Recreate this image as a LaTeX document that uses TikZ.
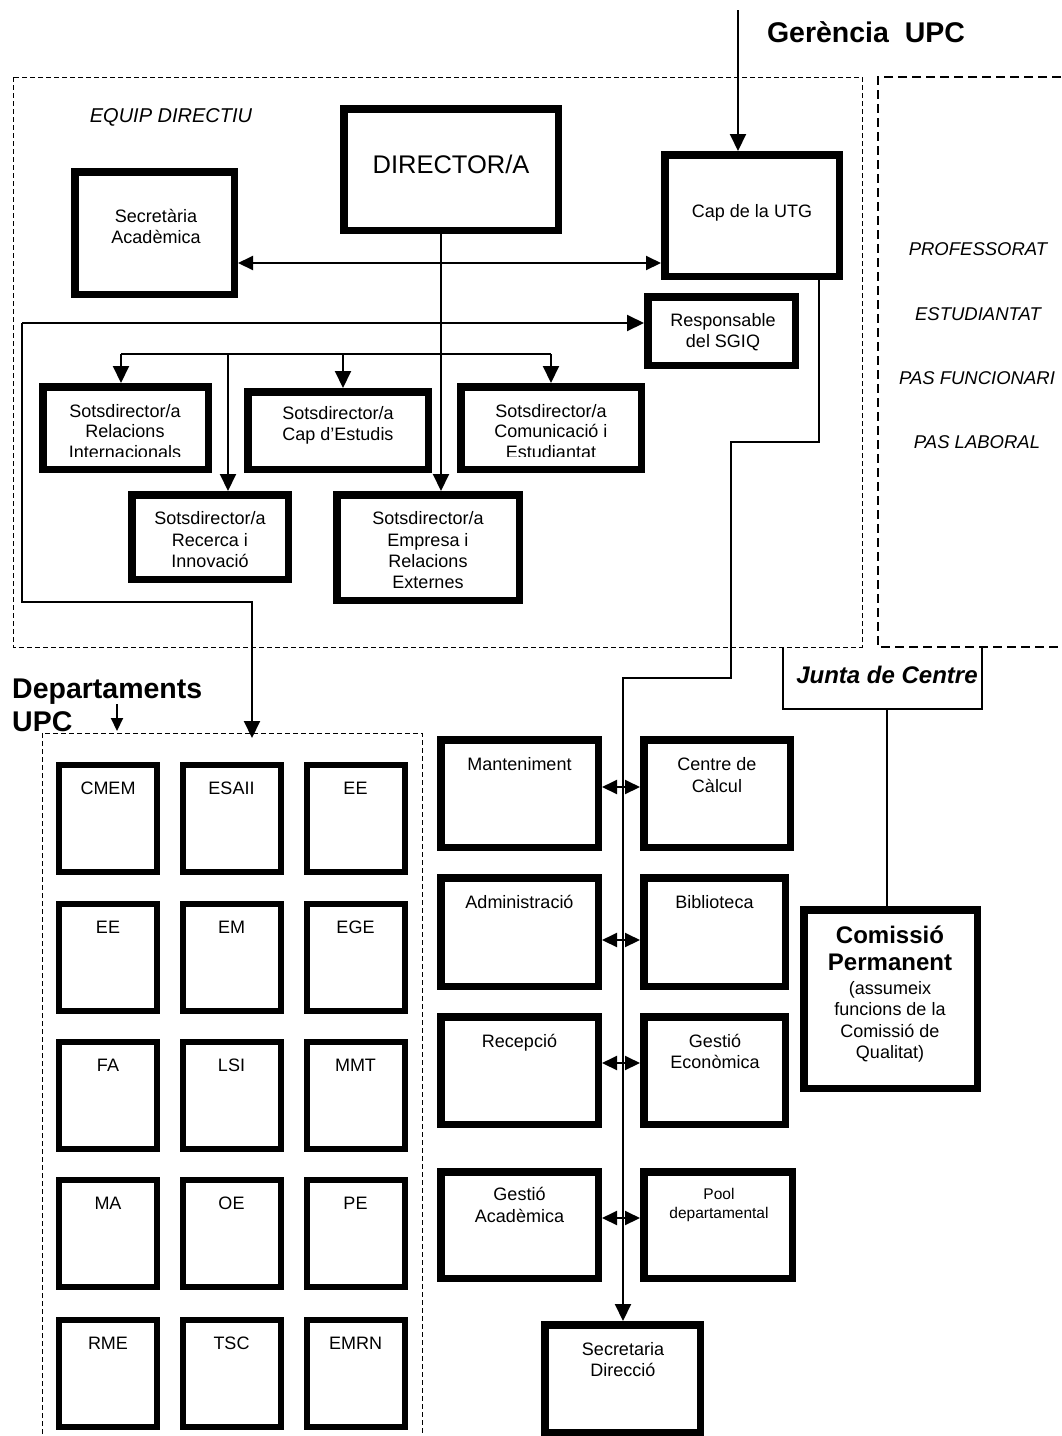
\documentclass[tikz,border=0pt]{standalone}
\usepackage{fontspec}
\setmainfont{Liberation Sans}
\usetikzlibrary{arrows.meta}
\newcommand\BX[6][7.5]{\node[boxst, line width=#1pt, outer sep={0.5*#1pt}, minimum width={(#5)-(#3)-(#1)}, minimum height={(#6)-(#4)-(#1)}] (#2) at ({((#3)+(#5))/2},{((#4)+(#6))/2}) {};}
\newcommand\TL[4][]{\node[lbl,#1] at (#2,#3) {#4};}
\begin{document}
\begin{tikzpicture}[x=1pt,y=-1pt,
  boxst/.style={draw, inner sep=0pt, fill=white},
  lbl/.style={anchor=base, inner sep=0pt, font=\fontsize{18}{21}\selectfont},
  conn/.style={line width=2pt},
  arr/.style={conn, -{Triangle[length=17pt,width=16pt]}},
  darr/.style={conn, {Triangle[length=15pt,width=14pt]}-{Triangle[length=15pt,width=14pt]}},
  smallarr/.style={conn, -{Triangle[length=13pt,width=12pt]}},
  thindash/.style={line width=1pt, dash pattern=on 5pt off 3pt},
  thickdash/.style={line width=2pt, dash pattern=on 9pt off 5pt},
  thinline/.style={line width=1.5pt},
  bigbold/.style={font=\fontsize{28.5}{30}\selectfont\bfseries},
  ital/.style={font=\fontsize{18.5}{21}\selectfont\itshape},
]
\useasboundingbox (0,0) rectangle (1062,1436);

% dashed frames
\draw[thindash] (13,77) rectangle (862,647);
\draw[thickdash] (1075,77) -- (878,77) -- (878,647) -- (1075,647);
\draw[thindash] (42,1450) -- (42,733) -- (422,733) -- (422,1450);

% headings
\TL[bigbold]{866}{42}{Gerència\ \ UPC}
\TL[bigbold, anchor=base west]{12}{698}{Departaments}
\TL[bigbold, anchor=base west]{12}{731}{UPC}
\TL[font=\fontsize{20}{22}\selectfont\itshape]{171}{122}{EQUIP DIRECTIU}
\TL[ital]{978}{255}{PROFESSORAT}
\TL[ital]{978}{320}{ESTUDIANTAT}
\TL[ital]{977}{384}{PAS FUNCIONARI}
\TL[ital]{977}{448}{PAS LABORAL}

% equip directiu boxes
\BX{sec}{71}{168}{238}{298}
\BX{dir}{340}{105}{562}{234}
\BX{cap}{661}{151}{843}{280}
\BX{sgiq}{644}{293}{799}{369}
\BX{rel}{39}{383}{212}{473}
\BX{est}{244}{388}{432}{473}
\BX{com}{457}{383}{645}{473}
\BX{rec}{128}{491}{292}{583}
\BX{emp}{333}{491}{523}{604}

\TL{156}{222}{Secretària}
\TL{156}{243}{Acadèmica}
\TL[font=\fontsize{25.5}{28}\selectfont]{451}{173}{DIRECTOR/A}
\TL{752}{217}{Cap de la UTG}
\TL{723}{326}{Responsable}
\TL{723}{347}{del SGIQ}
\TL{125}{417}{Sotsdirector/a}
\TL{125}{437}{Relacions}
\TL{338}{419}{Sotsdirector/a}
\TL{338}{440}{Cap d’Estudis}
\TL{551}{417}{Sotsdirector/a}
\TL{551}{437}{Comunicació i}
\begin{scope}
\clip (0,0) rectangle (1062,456);
\TL{125}{458}{Internacionals}
\TL{551}{458}{Estudiantat}
\end{scope}
\TL{210}{524}{Sotsdirector/a}
\TL{210}{546}{Recerca i}
\TL{210}{567}{Innovació}
\TL{428}{524}{Sotsdirector/a}
\TL{428}{546}{Empresa i}
\TL{428}{567}{Relacions}
\TL{428}{588}{Externes}

% connectors, top part
\coordinate (gtop) at (738,10);
\draw[arr] (gtop) -- (gtop |- cap.north);
\coordinate (ya) at (0,263);
\draw[darr] (sec.east |- ya) -- (cap.west |- ya);
\coordinate (xd) at (441,0);
\draw[arr] (dir.south -| xd) -- (emp.north -| xd);
\coordinate (r1) at (22,323);
\coordinate (r2) at (22,602);
\coordinate (r3) at (252,602);
\coordinate (dtip) at (252,738);
\draw[arr] (r1) -- (sgiq.west |- r1);
\draw[arr] (r1) -- (r2) -- (r3) -- (dtip);
\coordinate (b1) at (121,354);
\coordinate (b2) at (551,354);
\coordinate (b3) at (228,354);
\coordinate (b4) at (343,354);
\draw[conn] (b1) -- (b2);
\draw[arr] (b1) -- (b1 |- rel.north);
\draw[arr] (b2) -- (b2 |- com.north);
\draw[arr] (b3) -- (b3 |- rec.north);
\draw[arr] (b4) -- (b4 |- est.north);
\coordinate (dps) at (117,704);
\coordinate (dpe) at (117,731);
\draw[smallarr] (dps) -- (dpe);

% departments
\foreach \lab [count=\i from 0] in {CMEM,ESAII,EE,EE,EM,EGE,FA,LSI,MMT,MA,OE,PE,RME,TSC,EMRN}{
  \pgfmathtruncatemacro\rr{\i/3}
  \pgfmathtruncatemacro\cc{mod(\i,3)}
  \pgfmathsetmacro\xl{{56,179.5,303.5}[\cc]}
  \pgfmathsetmacro\yt{{762,901,1039,1177,1317}[\rr]}
  \node[boxst, line width=6pt, outer sep=3pt, minimum width=98, minimum height=107] (d\i) at (\xl+52,\yt+56.5) {};
  \node[lbl] at (\xl+52,\yt+32) {\lab};
}

% services
\BX{mant}{437}{736}{602}{851}
\BX{calc}{640}{736}{794}{851}
\BX{adm}{437}{874}{602}{990}
\BX{bib}{640}{874}{789}{990}
\BX{recp}{437}{1013}{602}{1128}
\BX{geco}{640}{1013}{789}{1128}
\BX{gaca}{437}{1168}{602}{1282}
\BX{pool}{640}{1168}{796}{1282}
\BX{sdir}{541}{1321}{704}{1436}
\BX{comp}{800}{906}{981}{1092}

\TL{519.5}{770}{Manteniment}
\TL{717}{770}{Centre de}
\TL{717}{792}{Càlcul}
\TL{519.5}{908}{Administració}
\TL{714.5}{908}{Biblioteca}
\TL{519.5}{1047}{Recepció}
\TL{715}{1047}{Gestió}
\TL{715}{1068}{Econòmica}
\TL{519.5}{1200}{Gestió}
\TL{519.5}{1222}{Acadèmica}
\TL[font=\fontsize{15.5}{18}\selectfont]{719}{1199}{Pool}
\TL[font=\fontsize{15.5}{18}\selectfont]{719}{1218}{departamental}
\TL{623}{1355}{Secretaria}
\TL{623}{1376}{Direcció}
\TL[font=\fontsize{24}{27}\selectfont\bfseries]{890}{943}{Comissió}
\TL[font=\fontsize{24}{27}\selectfont\bfseries]{890}{970}{Permanent}
\TL{890}{994}{(assumeix}
\TL{890}{1015}{funcions de la}
\TL{890}{1037}{Comissió de}
\TL{890}{1058}{Qualitat)}

% UTG route to Secretaria Direccio
\coordinate (c1) at (819,442);
\coordinate (c2) at (731,442);
\coordinate (c3) at (731,678);
\coordinate (c4) at (623,678);
\draw[arr] (cap.south -| c1) -- (c1) -- (c2) -- (c3) -- (c4) -- (c4 |- sdir.north);

\foreach \yy/\a/\b in {787/mant/calc, 940/adm/bib, 1063/recp/geco, 1218/gaca/pool}{
  \coordinate (yy) at (0,\yy);
  \draw[darr] (\a.east |- yy) -- (\b.west |- yy);
}

% Junta de Centre
\coordinate (j1) at (783,647);
\coordinate (j2) at (783,709);
\coordinate (j3) at (982,709);
\coordinate (j4) at (982,647);
\coordinate (jb) at (887,709);
\draw[thinline] (j1) -- (j2) -- (j3) -- (j4);
\TL[font=\fontsize{24}{27}\selectfont\bfseries\itshape]{887}{683}{Junta de Centre}
\draw[thinline] (jb) -- (jb |- comp.north);
\end{tikzpicture}
\end{document}
